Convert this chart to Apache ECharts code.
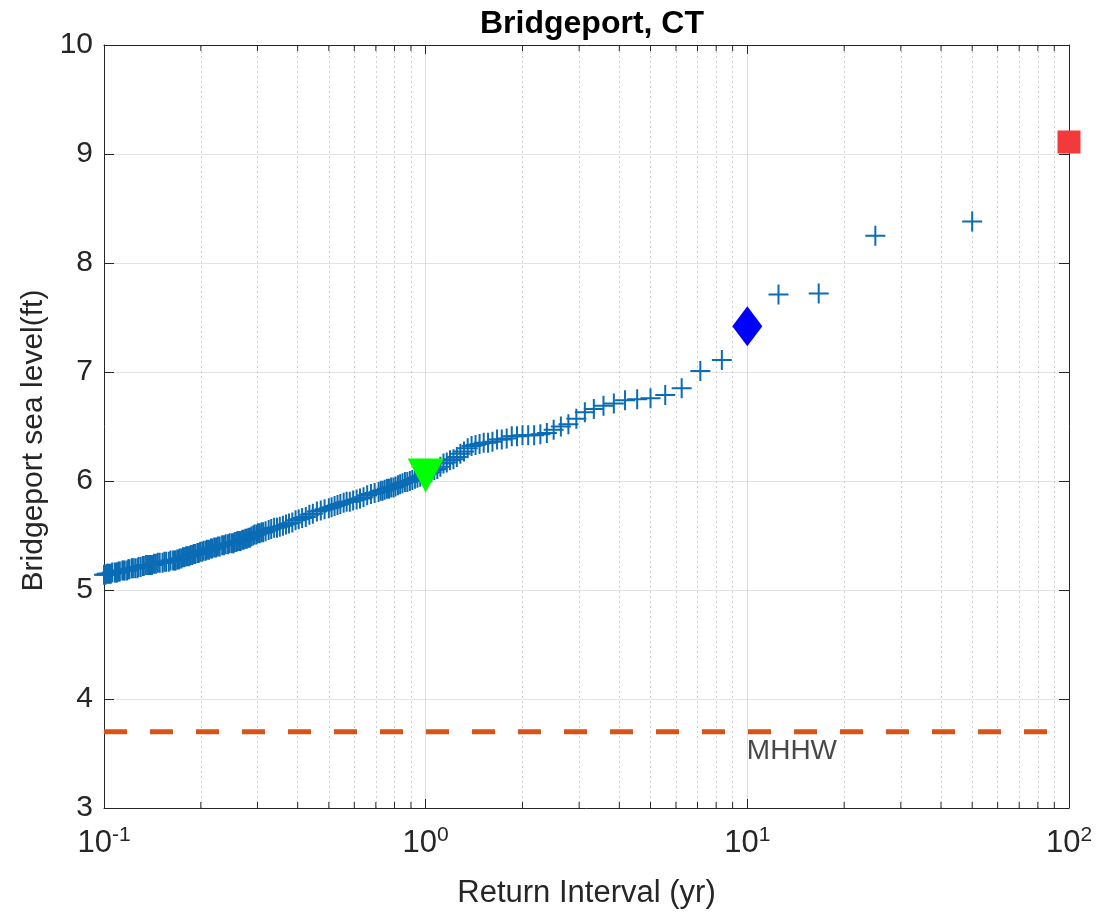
<!DOCTYPE html>
<html>
<head>
<meta charset="utf-8">
<title>Bridgeport, CT</title>
<script src="https://cdn.jsdelivr.net/npm/echarts@6/dist/echarts.min.js"></script>
<style>
html,body{margin:0;padding:0;background:#fff;}
#main{width:1099px;height:915px;}
</style>
</head>
<body>
<div id="main"></div>
<script>
// ranked observations, largest first: return interval (yr) / level (ft)
var returnYears = [50, 25, 16.667, 12.5, 10, 8.333, 7.143, 6.25, 5.556, 5, 4.545, 4.167, 3.846, 3.571, 3.333, 3.125, 2.941, 2.778, 2.632, 2.5,
	2.381, 2.273, 2.174, 2.083, 2, 1.923, 1.852, 1.786, 1.724, 1.667, 1.613, 1.563, 1.515, 1.471, 1.429, 1.389, 1.351, 1.316, 1.282, 1.25,
	1.22, 1.19, 1.163, 1.136, 1.111, 1.087, 1.064, 1.042, 1.02, 1];
var seaLevels = [8.38, 8.25, 7.72, 7.71, 7.42, 7.11, 7.01, 6.85, 6.79, 6.76, 6.75, 6.74, 6.71, 6.69, 6.66, 6.63, 6.57, 6.52, 6.50, 6.47,
	6.44, 6.43, 6.42, 6.42, 6.42, 6.41, 6.41, 6.39, 6.38, 6.38, 6.36, 6.35, 6.35, 6.34, 6.33, 6.32, 6.30, 6.27, 6.25, 6.22,
	6.20, 6.19, 6.17, 6.16, 6.13, 6.11, 6.10, 6.08, 6.07, 6.06];
// the dense part below 1 yr
var bandYears = [0.98, 0.962, 0.943, 0.926, 0.909, 0.893, 0.877, 0.862, 0.847, 0.833, 0.82, 0.806, 0.794, 0.781, 0.769, 0.758, 0.746, 0.735, 0.725, 0.714,
	0.694, 0.676, 0.658, 0.641, 0.625, 0.61, 0.595, 0.581, 0.568, 0.556, 0.543, 0.532, 0.521, 0.51, 0.5,
	0.485, 0.472, 0.459, 0.446, 0.435, 0.424, 0.413, 0.403, 0.394, 0.385, 0.376, 0.368, 0.36, 0.352, 0.345, 0.338, 0.331, 0.325, 0.318, 0.3125,
	0.309, 0.305, 0.301, 0.298, 0.294, 0.291, 0.287, 0.284, 0.281, 0.278, 0.275, 0.272, 0.269, 0.266, 0.263, 0.26, 0.258, 0.255, 0.253, 0.25,
	0.246, 0.243, 0.239, 0.236, 0.233, 0.229, 0.226, 0.223, 0.22, 0.217, 0.215, 0.212, 0.209, 0.207, 0.204, 0.202, 0.199,
	0.197, 0.195, 0.192, 0.19, 0.188, 0.186, 0.184, 0.182, 0.18, 0.178, 0.176, 0.174, 0.172, 0.171, 0.169, 0.167, 0.166,
	0.164, 0.161, 0.159, 0.156, 0.154, 0.152, 0.149, 0.147, 0.145, 0.143, 0.141, 0.139, 0.137, 0.135, 0.133, 0.132, 0.13, 0.128, 0.127, 0.125,
	0.123, 0.122, 0.12, 0.119, 0.118, 0.116, 0.115, 0.114, 0.112, 0.111, 0.11, 0.109, 0.108, 0.106, 0.105, 0.104, 0.103, 0.102, 0.101, 0.1];
var bandLevels = [6.05, 6.04, 6.03, 6.02, 6.01, 6.00, 5.99, 5.99, 5.98, 5.97, 5.96, 5.95, 5.94, 5.94, 5.93, 5.93, 5.92, 5.91, 5.91, 5.90,
	5.89, 5.88, 5.87, 5.85, 5.84, 5.83, 5.82, 5.81, 5.81, 5.80, 5.79, 5.78, 5.77, 5.76, 5.75,
	5.74, 5.73, 5.72, 5.70, 5.69, 5.67, 5.66, 5.65, 5.64, 5.62, 5.61, 5.60, 5.59, 5.58, 5.57, 5.57, 5.56, 5.55, 5.54, 5.53,
	5.53, 5.52, 5.52, 5.51, 5.51, 5.50, 5.49, 5.48, 5.48, 5.47, 5.47, 5.46, 5.46, 5.45, 5.45, 5.45, 5.44, 5.44, 5.43, 5.43,
	5.43, 5.42, 5.42, 5.41, 5.41, 5.40, 5.40, 5.39, 5.39, 5.38, 5.38, 5.37, 5.37, 5.36, 5.36, 5.35, 5.35,
	5.34, 5.34, 5.33, 5.33, 5.32, 5.32, 5.31, 5.31, 5.31, 5.30, 5.30, 5.29, 5.29, 5.28, 5.28, 5.27, 5.27,
	5.27, 5.27, 5.26, 5.26, 5.26, 5.25, 5.25, 5.25, 5.24, 5.24, 5.23, 5.23, 5.23, 5.23, 5.22, 5.22, 5.21, 5.21, 5.20, 5.20,
	5.20, 5.20, 5.19, 5.19, 5.18, 5.18, 5.18, 5.18, 5.17, 5.17, 5.16, 5.16, 5.16, 5.16, 5.15, 5.15, 5.15, 5.15, 5.14, 5.14];
// 1-, 10- and 100-yr levels
var markerYears = [1, 10, 100];
var markerLevels = [6.05, 7.42, 9.11];
var mhhwLevel = 3.7;
var minorTickYears = [0.2, 0.3, 0.4, 0.5, 0.6, 0.7, 0.8, 0.9, 2, 3, 4, 5, 6, 7, 8, 9, 20, 30, 40, 50, 60, 70, 80, 90];

var axisColor = '#262626';
var fontFam = '"Liberation Sans", Arial, Helvetica, sans-serif';
var plusPath = 'path://M-1,-0.1L-0.1,-0.1L-0.1,-1L0.1,-1L0.1,-0.1L1,-0.1L1,0.1L0.1,0.1L0.1,1L-0.1,1L-0.1,0.1L-1,0.1Z';

var obs = [];
for (var i = 0; i < returnYears.length; i++) obs.push([returnYears[i], seaLevels[i]]);
for (var j = 0; j < bandYears.length; j++) obs.push([bandYears[j], bandLevels[j]]);

var tickBottom = [], tickTop = [], minorLines = [];
for (var k = 0; k < minorTickYears.length; k++) {
	tickBottom.push([minorTickYears[k], 3]);
	tickTop.push([minorTickYears[k], 10]);
	minorLines.push({xAxis: minorTickYears[k]});
}

var option = {
	animation: false,
	textStyle: {fontFamily: fontFam},
	title: {
		text: 'Bridgeport, CT',
		left: 587,
		textAlign: 'center',
		top: 3,
		textStyle: {fontSize: 32, fontWeight: 'bold', color: '#000', fontFamily: fontFam}
	},
	grid: {left: 104, right: 30, top: 45, bottom: 107},
	xAxis: [
		{
			type: 'log', logBase: 10, min: 0.1, max: 100,
			position: 'bottom',
			name: 'Return Interval (yr)',
			nameLocation: 'middle',
			nameGap: 70,
			nameTextStyle: {fontSize: 31, color: axisColor},
			axisLine: {show: true, onZero: false, lineStyle: {color: axisColor, width: 1}},
			axisTick: {show: true, inside: true, length: 9, lineStyle: {color: axisColor}},
			axisLabel: {
				margin: 17,
				formatter: function (v) {
					return '{b|10}{s|' + Math.round(Math.log10(v)) + '}';
				},
				rich: {
					b: {fontSize: 31, color: axisColor, verticalAlign: 'bottom', lineHeight: 34},
					s: {fontSize: 21, color: axisColor, verticalAlign: 'top', lineHeight: 34}
				}
			},
			splitLine: {show: true, lineStyle: {color: '#dcdcdc', width: 1}}
		},
		{
			type: 'log', logBase: 10, min: 0.1, max: 100,
			position: 'top',
			axisLine: {show: true, onZero: false, lineStyle: {color: axisColor, width: 1}},
			axisTick: {show: true, inside: true, length: 9, lineStyle: {color: axisColor}},
			axisLabel: {show: false},
			splitLine: {show: false}
		}
	],
	yAxis: [
		{
			type: 'value', min: 3, max: 10, interval: 1,
			name: 'Bridgeport sea level(ft)',
			nameLocation: 'middle',
			nameGap: 54,
			nameTextStyle: {fontSize: 30, color: axisColor, padding: [0, 28, 0, 0]},
			axisLine: {show: true, onZero: false, lineStyle: {color: axisColor, width: 1}},
			axisTick: {show: true, inside: true, length: 10, lineStyle: {color: axisColor}},
			axisLabel: {fontSize: 30, color: axisColor, margin: 11},
			splitLine: {show: true, lineStyle: {color: '#e3e3e3', width: 1}}
		},
		{
			type: 'value', min: 3, max: 10, interval: 1,
			position: 'right',
			axisLine: {show: true, onZero: false, lineStyle: {color: axisColor, width: 1}},
			axisTick: {show: true, inside: true, length: 10, lineStyle: {color: axisColor}},
			axisLabel: {show: false},
			splitLine: {show: false}
		}
	],
	series: [
		{
			// minor ticks along the bottom
			type: 'scatter', data: tickBottom, symbol: 'rect', symbolSize: [1, 6], symbolOffset: [0, -3],
			itemStyle: {color: axisColor, opacity: 1}, silent: true, z: 1
		},
		{
			type: 'scatter', data: tickTop, symbol: 'rect', symbolSize: [1, 6], symbolOffset: [0, 3],
			itemStyle: {color: axisColor, opacity: 1}, silent: true, z: 1
		},
		{
			name: 'MHHW',
			type: 'line',
			data: [[0.1, mhhwLevel], [100, mhhwLevel]],
			showSymbol: false,
			lineStyle: {color: '#d95319', width: 5, type: [23, 23]},
			silent: true,
			z: 2,
			markLine: {
				silent: true,
				symbol: 'none',
				label: {show: false},
				lineStyle: {color: '#cfcfcf', width: 1, type: [2, 3]},
				data: minorLines,
				z: 0
			}
		},
		{
			type: 'scatter',
			data: [[10, mhhwLevel]],
			symbolSize: 1,
			itemStyle: {color: 'transparent'},
			label: {show: true, formatter: 'MHHW', position: 'right', distance: 0, offset: [-1, 20], fontSize: 28, color: '#1a1a1a'},
			silent: true,
			z: 3
		},
		{
			name: 'observed',
			type: 'scatter',
			data: obs,
			symbol: plusPath,
			symbolSize: 20,
			itemStyle: {color: '#0a6cb4', opacity: 1},
			clip: false,
			z: 4
		},
		{
			type: 'scatter',
			data: [[markerYears[0], markerLevels[0]]],
			symbol: 'triangle', symbolRotate: 180, symbolSize: [36, 34],
			itemStyle: {color: '#00ff00', opacity: 1}, clip: false, z: 5
		},
		{
			type: 'scatter',
			data: [[markerYears[1], markerLevels[1]]],
			symbol: 'diamond', symbolSize: [30, 40],
			itemStyle: {color: '#0000ff', opacity: 1}, clip: false, z: 5
		},
		{
			type: 'scatter',
			data: [[markerYears[2], markerLevels[2]]],
			symbol: 'rect', symbolSize: 23,
			itemStyle: {color: '#f23a3a', opacity: 1}, clip: false, z: 5
		}
	]
};

var myChart = echarts.init(document.getElementById('main'));
myChart.setOption(option);
</script>
</body>
</html>
